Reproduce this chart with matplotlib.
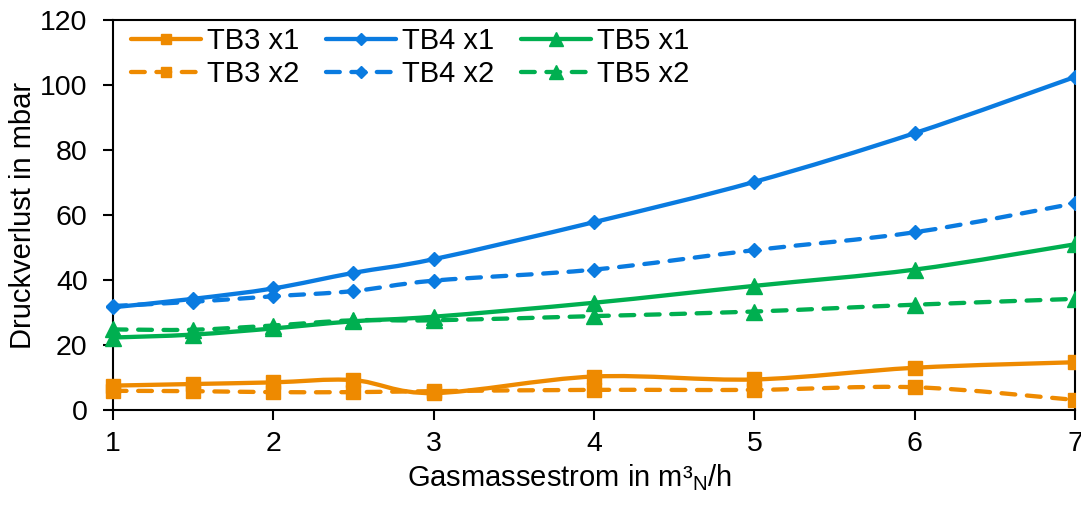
import numpy as np
import matplotlib.pyplot as plt
from matplotlib.patches import Rectangle, PathPatch
from matplotlib.path import Path
from matplotlib.lines import Line2D

plt.rcParams['font.family'] = ['Liberation Sans', 'DejaVu Sans']
plt.rcParams['mathtext.fontset'] = 'custom'
plt.rcParams['mathtext.rm'] = 'Liberation Sans'
plt.rcParams['mathtext.it'] = 'Liberation Sans:italic'

# Gasmassestrom in m3N/h
flow = [1, 1.5, 2, 2.5, 3, 4, 5, 6, 7]

# Druckverlust in mbar
tb3_x1 = [7.5, 8.0, 8.5, 9.2, 5.2, 10.3, 9.4, 13.0, 14.7]
tb3_x2 = [5.9, 5.8, 5.5, 5.5, 5.8, 6.2, 6.2, 7.0, 3.1]
tb4_x1 = [31.6, 34.2, 37.4, 42.2, 46.4, 57.8, 70.2, 85.2, 102.5]
tb4_x2 = [32.0, 33.3, 35.0, 36.6, 39.8, 43.2, 49.2, 54.7, 63.6]
tb5_x1 = [22.3, 23.2, 25.1, 27.3, 28.7, 33.0, 38.2, 43.2, 51.0]
tb5_x2 = [24.8, 24.7, 26.0, 27.6, 27.6, 28.9, 30.3, 32.4, 34.2]

# column-wise order so the legend reads x1 on top, x2 below
labels = ['TB3 x1', 'TB3 x2', 'TB4 x1', 'TB4 x2', 'TB5 x1', 'TB5 x2']
series = [tb3_x1, tb3_x2, tb4_x1, tb4_x2, tb5_x1, tb5_x2]

orange = '#EE8A00'
blue = '#0A7BE0'
green = '#00AF50'
colors = [orange, orange, blue, blue, green, green]
markers = ['s', 's', 'D', 'D', '^', '^']
msizes = [10.5, 10.5, 7.3, 7.3, 11, 11]
leg_msizes = [7.2, 7.2, 6.0, 6.0, 10, 10]

LW = 3.1
DASH = (3.2, 2.7)


def smooth_path(x, y):
    # spreadsheet-style smoothed line: one cubic bezier per segment
    pts = np.column_stack([x, y]).astype(float)
    n = len(pts)
    verts = [pts[0]]
    codes = [Path.MOVETO]
    for i in range(n - 1):
        p0 = pts[i - 1] if i > 0 else pts[i]
        p1 = pts[i]
        p2 = pts[i + 1]
        p3 = pts[i + 2] if i + 2 < n else pts[i + 1]
        c1 = p1 + (p2 - p0) / 6.0
        c2 = p2 - (p3 - p1) / 6.0
        verts += [c1, c2, p2]
        codes += [Path.CURVE4] * 3
    return Path(verts, codes)


fig = plt.figure(figsize=(10.81, 5.08), dpi=100)
ax = fig.add_axes([0.1043, 0.1929, 0.8903, 0.7677])

# markers may hang over the left edge but get cut at the right one
clip = Rectangle((-0.05, -0.05), 1.05, 1.1, transform=ax.transAxes)

handles = []
for i, (y, lab) in enumerate(zip(series, labels)):
    dashed = i % 2 == 1
    ls = (0, DASH) if dashed else '-'
    curve = PathPatch(smooth_path(flow, y), fill=False, edgecolor=colors[i],
                      linewidth=LW, linestyle=ls, capstyle='round',
                      joinstyle='round', zorder=2)
    ax.add_patch(curve)
    curve.set_clip_path(clip)
    pts, = ax.plot(flow, y, linestyle='none', marker=markers[i],
                   markersize=msizes[i], color=colors[i], zorder=3)
    pts.set_clip_path(clip)
    handles.append(Line2D([], [], color=colors[i], linewidth=LW,
                          linestyle=ls, dash_capstyle='round',
                          solid_capstyle='round', marker=markers[i],
                          markersize=leg_msizes[i]))

ax.set_xlim(1, 7)
ax.set_ylim(0, 120)
ax.set_xticks(range(1, 8))
ax.set_yticks(range(0, 121, 20))

for s in ax.spines.values():
    s.set_linewidth(1.5)
ax.tick_params(axis='both', labelsize=20.5, width=1.5, length=7, direction='out')
ax.tick_params(axis='y', pad=11)
ax.tick_params(axis='x', pad=8)

ax.set_ylabel('Druckverlust in mbar', fontsize=21, labelpad=2)
ax.set_xlabel('Gasmassestrom in m³$_\\mathrm{N}$/h', fontsize=21, labelpad=4.5)
ax.xaxis.set_label_coords(0.475, -0.135)

ax.legend(handles, labels, ncol=3, loc='upper left', frameon=False,
          fontsize=21, handlelength=2.4, handletextpad=0.2,
          columnspacing=0.92, labelspacing=0.18, borderaxespad=0.0,
          borderpad=0.0, numpoints=1, bbox_to_anchor=(0.0188, 0.9815))

fig.savefig('out.png', dpi=100)
